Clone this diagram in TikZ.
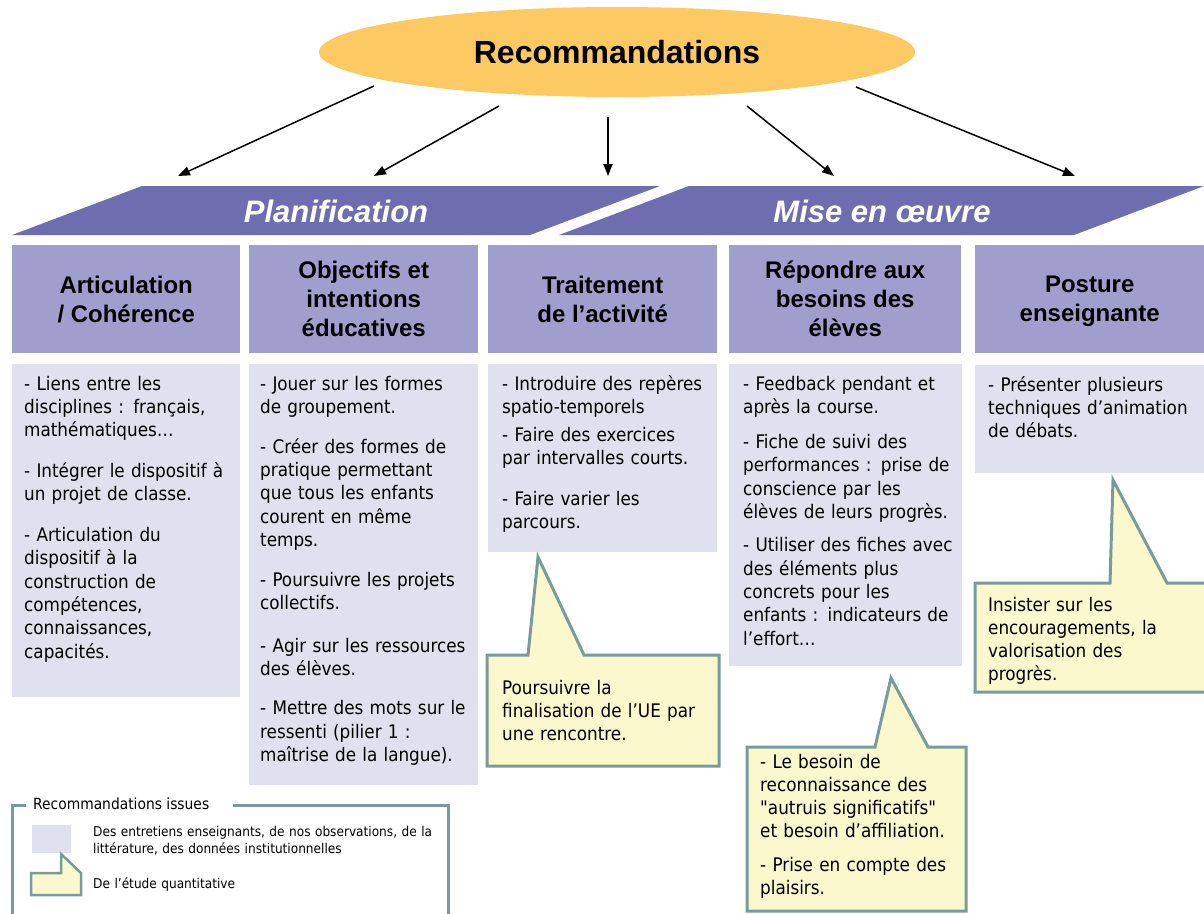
\documentclass[tikz,border=0pt]{standalone}
\usepackage{fontspec}
\newfontfamily\bodyfont{DejaVu Sans Condensed}
\newfontfamily\headfont{Liberation Sans}
\usepackage{tikz}
\usetikzlibrary{arrows.meta,positioning,shapes.geometric}

\definecolor{ovalfill}{RGB}{252,201,98}
\definecolor{sectfill}{RGB}{109,109,176}
\definecolor{headfill}{RGB}{160,158,205}
\definecolor{bodyfill}{RGB}{224,224,238}
\definecolor{notefill}{RGB}{251,248,206}
\definecolor{noteline}{RGB}{122,155,155}

\begin{document}
\begin{tikzpicture}[
        x=1pt, y=-1pt,
        oval/.style={ellipse, fill=ovalfill, minimum width=596pt, minimum height=90pt,
            font=\headfont\bfseries\fontsize{32}{38}\selectfont},
        sect/.style={fill=sectfill},
        secttext/.style={text=white, inner sep=0pt,
            font=\headfont\bfseries\itshape\fontsize{31}{37}\selectfont},
        head/.style={fill=headfill, anchor=north west, minimum height=108pt,
            align=center, inner sep=0pt,
            font=\headfont\bfseries\fontsize{24}{29}\selectfont},
        body/.style={fill=bodyfill},
        txt/.style={anchor=base west, text width=240pt, align=left, inner sep=0pt,
            font=\bodyfont\fontsize{18.7}{23.3}\selectfont},
        note/.style={fill=notefill, draw=noteline, line width=3pt},
        legtxt/.style={anchor=base west, text width=360pt, align=left, inner sep=0pt,
            font=\bodyfont\fontsize{13.5}{17}\selectfont},
        arr/.style={line width=1.5pt, -{Triangle[length=12pt,width=9pt]}},
    ]
    \fill[white] (0,0) rectangle (1204,913);
    \useasboundingbox (0,0) rectangle (1204,913);

    % top oval and arrows
    \node[oval] at (617,52) (rec) {Recommandations};
    \coordinate (s1) at (374,86);  \coordinate (t1) at (178,176);
    \coordinate (s2) at (499,106); \coordinate (t2) at (374,176);
    \coordinate (s3) at (608,117); \coordinate (t3) at (608,176);
    \coordinate (s4) at (747,106); \coordinate (t4) at (834,176);
    \coordinate (s5) at (856,87);  \coordinate (t5) at (1075,176);
    \foreach \i in {1,...,5}
        \draw[arr] (s\i) -- (t\i);

    % the two slanted bands
    \fill[sect] (12,235) -- (142,186) -- (660,186) -- (530,235) -- cycle;
    \fill[sect] (559,235) -- (689,186) -- (1204,186) -- (1074,235) -- cycle;
    \node[secttext] at (336,211) (plan) {Planification};
    \node[secttext] at (882,211) (mise) {Mise en œuvre};

    % column headers
    \node[head, minimum width=228pt] at (12,245) (h1) {Articulation\\/ Cohérence};
    \node[head, minimum width=229pt] at (249,245) (h2) {Objectifs et\\intentions\\éducatives};
    \node[head, minimum width=229pt] at (488,245) (h3) {Traitement\\de l’activité};
    \node[head, minimum width=232pt] at (729,245) (h4) {Répondre aux\\besoins des\\élèves};
    \node[head, minimum width=229pt, text depth=0pt] at (975,245) (h5) {Posture\\enseignante};

    % column bodies
    \fill[body] (12,364) rectangle (240,697);
    \fill[body] (249,364) rectangle (478,785);
    \fill[body] (488,364) rectangle (717,552);
    \fill[body] (729,364) rectangle (962,666);
    \fill[body] (975,365) rectangle (1204,473);

    \node[txt] at (24,390) (b1) {- Liens entre les\\disciplines : français,\\mathématiques…\\[17.5pt]
        - Intégrer le dispositif à\\un projet de classe.\\[17.5pt]
        - Articulation du\\dispositif à la\\construction de\\compétences,\\connaissances,\\capacités.};
    \node[txt] at (260,390) (b2) {- Jouer sur les formes\\de groupement.\\[16.7pt]
        - Créer des formes de\\pratique permettant\\que tous les enfants\\courent en même\\temps.\\[16.7pt]
        - Poursuivre les projets\\collectifs.\\[19pt]
        - Agir sur les ressources\\des élèves.\\[16pt]
        - Mettre des mots sur le\\ressenti (pilier 1 :\\maîtrise de la langue).};
    \node[txt] at (502,390) (b3) {- Introduire des repères\\spatio-temporels\\[5pt]
        - Faire des exercices\\par intervalles courts.\\[17pt]
        - Faire varier les\\parcours.};
    \node[txt] at (743,390) (b4) {- Feedback pendant et\\après la course.\\[12pt]
        - Fiche de suivi des\\performances : prise de\\conscience par les\\élèves de leurs progrès.\\[10pt]
        - Utiliser des fiches avec\\des éléments plus\\concrets pour les\\enfants : indicateurs de\\l’effort…};
    \node[txt] at (988,391) (b5) {- Présenter plusieurs\\techniques d’animation\\de débats.};

    % callouts
    \draw[note] (487,655) -- (528,655) -- (538,557) -- (584,655) -- (719,655)
        -- (719,766) -- (487,766) -- cycle;
    \node[txt] at (502,694) (c1) {Poursuivre la\\finalisation de l’UE par\\une rencontre.};
    \draw[note] (747,747) -- (875,747) -- (891,678) -- (928,747) -- (966,747)
        -- (966,911) -- (747,911) -- cycle;
    \node[txt] at (760,768) (c2) {- Le besoin de\\reconnaissance des\\"autruis significatifs"\\et besoin d’affiliation.\\[10pt]
        - Prise en compte des\\plaisirs.};
    \draw[note] (975,583) -- (1110,583) -- (1113,480) -- (1167,583) -- (1207,583)
        -- (1207,692) -- (975,692) -- cycle;
    \node[txt] at (988,611) (c3) {Insister sur les\\encouragements, la\\valorisation des\\progrès.};

    % legend
    \draw[draw=noteline, line width=3pt] (26,805) -- (12,805) -- (12,918);
    \draw[draw=noteline, line width=3pt] (233,805) -- (448,805) -- (448,918);
    \node[anchor=west, inner sep=0pt, font=\bodyfont\fontsize{15.4}{18}\selectfont] at (33,804) (legtitle) {Recommandations issues};
    \fill[body] (32,825) rectangle (71,853);
    \draw[note, line width=2.5pt] (31,873) -- (61,873) -- (61,854) -- (81,873) -- (81,895)
        -- (31,895) -- cycle;
    \node[legtxt] at (93,836) (leg1) {Des entretiens enseignants, de nos observations, de la\\littérature, des données institutionnelles};
    \node[legtxt] at (93,888) (leg2) {De l’étude quantitative};
\end{tikzpicture}
\end{document}
